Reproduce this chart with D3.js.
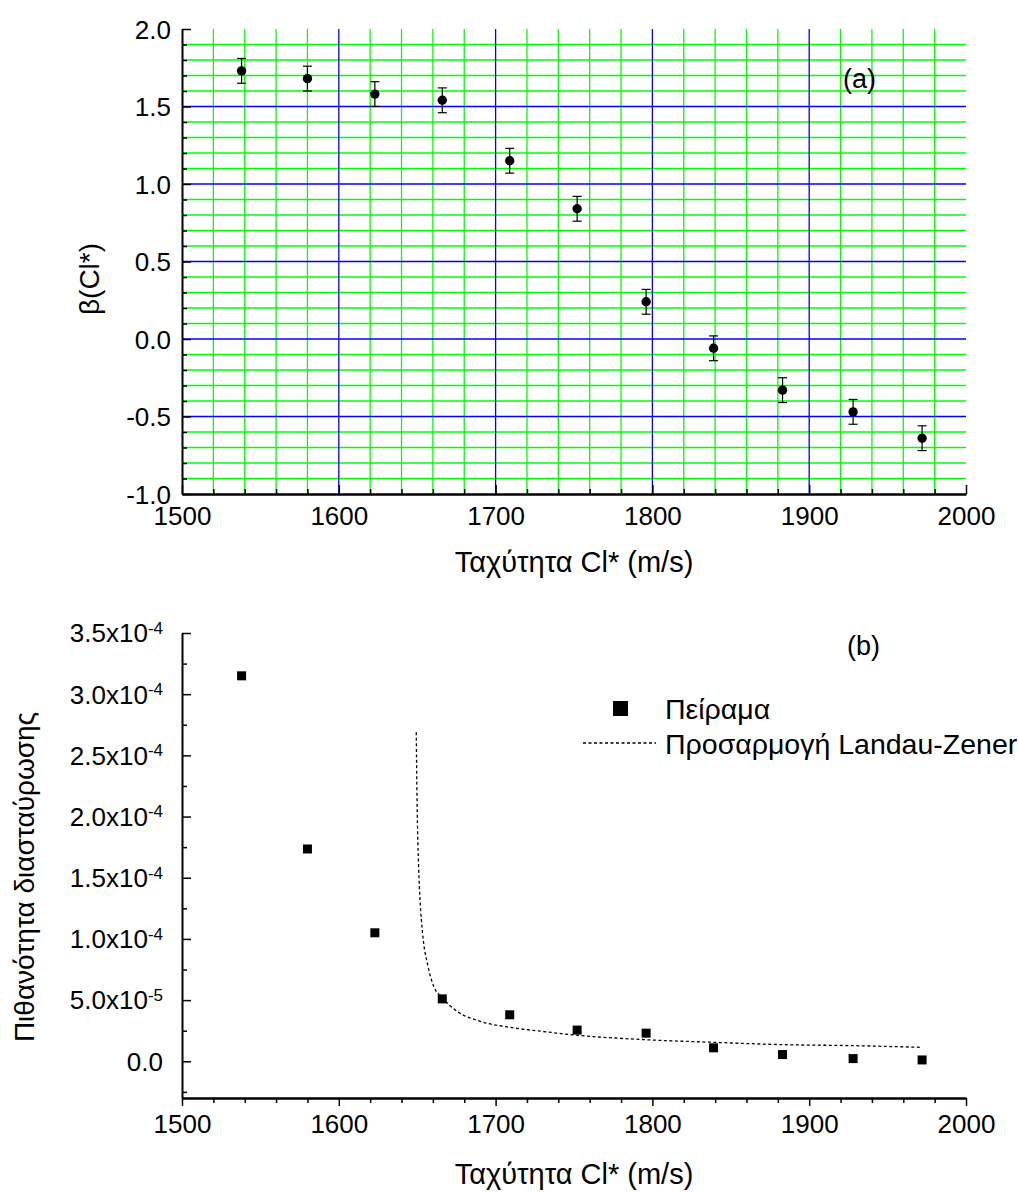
<!DOCTYPE html>
<html>
<head>
<meta charset="utf-8">
<script src="https://cdn.jsdelivr.net/npm/d3@7"></script>
<style>
  html, body { margin: 0; padding: 0; background: #fff; }
  svg { display: block; font-family: "Liberation Sans", Arial, sans-serif; }
</style>
</head>
<body>
<svg id="chart" width="1019" height="1192"></svg>
<script>
// ---------- data ----------
const velocity = [1538, 1580, 1623, 1666, 1709, 1752, 1796, 1839, 1883, 1928, 1972];
const beta = [1.73, 1.68, 1.58, 1.54, 1.15, 0.84, 0.24, -0.06, -0.33, -0.47, -0.64];
const betaErr = [0.08, 0.08, 0.08, 0.08, 0.08, 0.08, 0.08, 0.08, 0.08, 0.08, 0.08];
const crossProb = [3.15e-4, 1.735e-4, 1.05e-4, 0.51e-4, 0.38e-4, 0.255e-4, 0.23e-4, 0.11e-4, 0.055e-4, 0.022e-4, 0.011e-4];
const fitVelocity = [1649.4, 1649.9, 1650.9, 1651.8, 1653.4, 1656.9, 1660.5, 1666, 1675.4, 1690.2, 1711.5, 1732.8, 1747.6, 1795, 1839, 1883, 1927, 1972];
const fitProb = [2.69e-4, 2.14e-4, 1.59e-4, 1.32e-4, 1.05e-4, 0.776e-4, 0.613e-4, 0.52e-4, 0.408e-4, 0.327e-4, 0.273e-4, 0.24e-4, 0.218e-4, 0.177e-4, 0.155e-4, 0.136e-4, 0.128e-4, 0.114e-4];

const xTicks = [1500, 1600, 1700, 1800, 1900, 2000];
const xTickLabels = ["1500", "1600", "1700", "1800", "1900", "2000"];
const xMinor = [1520, 1540, 1560, 1580, 1620, 1640, 1660, 1680, 1720, 1740, 1760, 1780, 1820, 1840, 1860, 1880, 1920, 1940, 1960, 1980];
const xGridMajor = [1600, 1700, 1800, 1900];
const betaTicks = [-1.0, -0.5, 0.0, 0.5, 1.0, 1.5, 2.0];
const betaTickLabels = ["-1.0", "-0.5", "0.0", "0.5", "1.0", "1.5", "2.0"];
const betaGridMajor = [-0.5, 0.0, 0.5, 1.0, 1.5];
const betaMinor = [-0.9, -0.8, -0.7, -0.6, -0.4, -0.3, -0.2, -0.1, 0.1, 0.2, 0.3, 0.4, 0.6, 0.7, 0.8, 0.9, 1.1, 1.2, 1.3, 1.4, 1.6, 1.7, 1.8, 1.9];
const probTicks = [0, 0.5e-4, 1.0e-4, 1.5e-4, 2.0e-4, 2.5e-4, 3.0e-4, 3.5e-4];
const probTickMant = ["0.0", "5.0x10", "1.0x10", "1.5x10", "2.0x10", "2.5x10", "3.0x10", "3.5x10"];
const probTickExp = ["", "-5", "-4", "-4", "-4", "-4", "-4", "-4"];
const probMinor = [-0.25e-4, 0.25e-4, 0.75e-4, 1.25e-4, 1.75e-4, 2.25e-4, 2.75e-4, 3.25e-4];

const titleX = "Ταχύτητα Cl* (m/s)";
const titleYa = "β(Cl*)";
const titleYb = "Πιθανότητα διασταύρωσης";
const legendLabels = ["Πείραμα", "Προσαρμογή Landau-Zener"];

// ---------- setup ----------
const svg = d3.select("#chart");
const L = 182, R = 966;
const tickFont = 26, titleFont = 28;

// ===== chart (a) =====
const xa = d3.scaleLinear().domain([1500, 2000]).range([L, R]);
const ya = d3.scaleLinear().domain([-1, 2]).range([494, 29]);
const ga = svg.append("g");

// grid
const gridA = ga.append("g");
function vLines(vals, color) {
  gridA.append("g").selectAll("line").data(vals).join("line")
    .attr("x1", d => xa(d)).attr("x2", d => xa(d)).attr("y1", ya(2)).attr("y2", ya(-1))
    .attr("stroke", color).attr("stroke-width", 1.3);
}
function hLines(vals, color) {
  gridA.append("g").selectAll("line").data(vals).join("line")
    .attr("x1", L).attr("x2", R).attr("y1", d => ya(d)).attr("y2", d => ya(d))
    .attr("stroke", color).attr("stroke-width", 1.3);
}
vLines(xMinor, "#00ff00");
hLines(betaMinor, "#00ff00");
vLines(xGridMajor, "#0000ff");
hLines(betaGridMajor, "#0000ff");

// axes
function styleAxis(g, w) {
  g.selectAll(".domain").attr("stroke", "#000").attr("stroke-width", w);
  g.selectAll(".tick line").attr("stroke", "#000").attr("stroke-width", 1.5);
  g.selectAll(".tick text").attr("fill", "#000").style("font-size", tickFont + "px")
    .style("font-family", '"Liberation Sans", Arial, sans-serif');
}
function minorTicks(g) {
  g.select(".domain").remove();
  g.selectAll(".tick line").attr("stroke", "#000").attr("stroke-width", 1.5);
}
const axLa = ga.append("g").attr("transform", `translate(${L},0)`)
  .call(d3.axisLeft(ya).tickValues(betaTicks).tickFormat((d, i) => betaTickLabels[i])
    .tickSizeInner(-9).tickSizeOuter(0).tickPadding(11));
styleAxis(axLa, 2);
axLa.selectAll(".tick text").attr("dy", "0.36em");
ga.append("g").attr("transform", `translate(${L},0)`)
  .call(d3.axisLeft(ya).tickValues(betaMinor).tickFormat("").tickSizeInner(-5).tickSizeOuter(0))
  .call(minorTicks);

const axBa = ga.append("g").attr("transform", `translate(0,${ya(-1)})`)
  .call(d3.axisBottom(xa).tickValues(xTicks).tickFormat((d, i) => xTickLabels[i])
    .tickSizeInner(-9).tickSizeOuter(0).tickPadding(13));
styleAxis(axBa, 2.5);
ga.append("g").attr("transform", `translate(0,${ya(-1)})`)
  .call(d3.axisBottom(xa).tickValues(xMinor).tickFormat("").tickSizeInner(-5).tickSizeOuter(0))
  .call(minorTicks);

// error bars + points
const pts = velocity.map((v, i) => ({ v, b: beta[i], e: betaErr[i] }));
const eb = ga.append("g").attr("stroke", "#000").attr("stroke-width", 1.2);
eb.append("g").selectAll("line").data(pts).join("line")
  .attr("x1", d => xa(d.v)).attr("x2", d => xa(d.v))
  .attr("y1", d => ya(d.b + d.e)).attr("y2", d => ya(d.b - d.e));
eb.append("g").selectAll("line").data(pts).join("line")
  .attr("x1", d => xa(d.v) - 4.5).attr("x2", d => xa(d.v) + 4.5)
  .attr("y1", d => ya(d.b + d.e)).attr("y2", d => ya(d.b + d.e));
eb.append("g").selectAll("line").data(pts).join("line")
  .attr("x1", d => xa(d.v) - 4.5).attr("x2", d => xa(d.v) + 4.5)
  .attr("y1", d => ya(d.b - d.e)).attr("y2", d => ya(d.b - d.e));
ga.append("g").selectAll("circle").data(pts).join("circle")
  .attr("cx", d => xa(d.v)).attr("cy", d => ya(d.b)).attr("r", 4.7).attr("fill", "#000");

// labels
ga.append("text").attr("x", 843).attr("y", 88).style("font-size", "27px").text("(a)");
ga.append("text").attr("x", (L + R) / 2).attr("y", 572).attr("text-anchor", "middle")
  .style("font-size", "29px").text(titleX);
ga.append("text").attr("transform", "translate(99,279) rotate(-90)").attr("text-anchor", "middle")
  .style("font-size", titleFont + "px").text(titleYa);

// ===== chart (b) =====
const xb = d3.scaleLinear().domain([1500, 2000]).range([L, R]);
const yb = d3.scaleLinear().domain([-3e-5, 3.5e-4]).range([1098, 633]);
const gb = svg.append("g");

const axLb = gb.append("g").attr("transform", `translate(${L},0)`)
  .call(d3.axisLeft(yb).tickValues(probTicks).tickFormat("").tickSizeInner(-9).tickSizeOuter(0));
styleAxis(axLb, 2);
gb.append("g").attr("transform", `translate(${L},0)`)
  .call(d3.axisLeft(yb).tickValues(probMinor).tickFormat("").tickSizeInner(-5).tickSizeOuter(0))
  .call(minorTicks);
// tick labels with superscripts
const lbl = gb.append("g");
probTicks.forEach((t, i) => {
  const tx = lbl.append("text").attr("x", 163).attr("y", yb(t)).attr("dy", "0.36em")
    .attr("text-anchor", "end").style("font-size", tickFont + "px");
  tx.append("tspan").text(probTickMant[i]);
  if (probTickExp[i]) {
    tx.append("tspan").attr("dy", "-0.5em").style("font-size", "17px").text(probTickExp[i]);
  }
});

const axBb = gb.append("g").attr("transform", `translate(0,${yb(-3e-5)})`)
  .call(d3.axisBottom(xb).tickValues(xTicks).tickFormat((d, i) => xTickLabels[i])
    .tickSizeInner(8).tickSizeOuter(0).tickPadding(9));
styleAxis(axBb, 2.5);
gb.append("g").attr("transform", `translate(0,${yb(-3e-5)})`)
  .call(d3.axisBottom(xb).tickValues(xMinor).tickFormat("").tickSizeInner(5).tickSizeOuter(0))
  .call(minorTicks);

// fit curve
const fit = fitVelocity.map((v, i) => [v, fitProb[i]]);
gb.append("path").datum(fit)
  .attr("d", d3.line().x(d => xb(d[0])).y(d => yb(d[1])).curve(d3.curveMonotoneX))
  .attr("fill", "none").attr("stroke", "#000").attr("stroke-width", 1.3).attr("stroke-dasharray", "3,2.5");

// squares
const sq = 9;
gb.append("g").selectAll("rect").data(velocity.map((v, i) => [v, crossProb[i]])).join("rect")
  .attr("x", d => xb(d[0]) - sq / 2).attr("y", d => yb(d[1]) - sq / 2)
  .attr("width", sq).attr("height", sq).attr("fill", "#000");

// legend
const lg = gb.append("g");
lg.append("rect").attr("x", 613).attr("y", 701).attr("width", 15).attr("height", 15).attr("fill", "#000");
lg.append("text").attr("x", 665).attr("y", 719).style("font-size", "28.5px").text(legendLabels[0]);
lg.append("line").attr("x1", 583).attr("x2", 656).attr("y1", 743).attr("y2", 743)
  .attr("stroke", "#000").attr("stroke-width", 1.3).attr("stroke-dasharray", "3,2.5");
lg.append("text").attr("x", 665).attr("y", 754).style("font-size", "28.5px").text(legendLabels[1]);

gb.append("text").attr("x", 847).attr("y", 655).style("font-size", "27px").text("(b)");
gb.append("text").attr("x", (L + R) / 2).attr("y", 1184).attr("text-anchor", "middle")
  .style("font-size", "29px").text(titleX);
gb.append("text").attr("transform", "translate(34,877) rotate(-90)").attr("text-anchor", "middle")
  .style("font-size", titleFont + "px").text(titleYb);
</script>
</body>
</html>
